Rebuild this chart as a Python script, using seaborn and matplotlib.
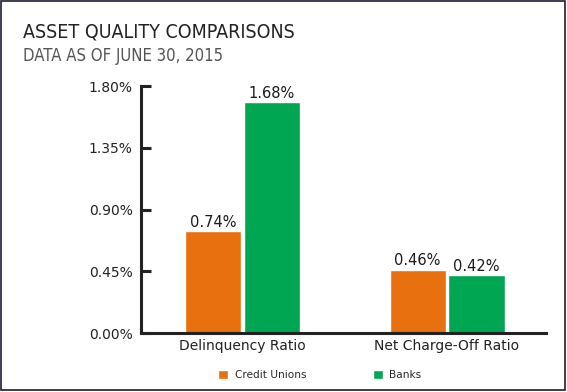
import pandas as pd
import matplotlib.pyplot as plt
import seaborn as sns
from matplotlib.patches import Rectangle

# Chart data
categories = ['Delinquency Ratio', 'Net Charge-Off Ratio']
series = ['Credit Unions', 'Banks']
credit_unions = [0.74, 0.46]
banks = [1.68, 0.42]
yticks = [0.0, 0.45, 0.90, 1.35, 1.80]

df = pd.DataFrame({
    'Ratio': categories * 2,
    'Group': [series[0]] * 2 + [series[1]] * 2,
    'Value': credit_unions + banks,
})

sns.set_style('white')
plt.rcParams['font.family'] = ['DejaVu Sans']
narrow = ['Liberation Sans Narrow', 'DejaVu Sans']

fig = plt.figure(figsize=(5.67, 3.92), dpi=100)
ax = fig.add_axes([0.2487, 0.1505, 0.963 - 0.2487, 0.6301])

palette = {'Credit Unions': '#E8700F', 'Banks': '#00A651'}
sns.barplot(data=df, x='Ratio', y='Value', hue='Group', palette=palette,
            width=0.575, gap=0.045, saturation=1, ax=ax)

for c in ax.containers:
    ax.bar_label(c, fmt='%.2f%%', padding=1, fontsize=10.5, color='#1a1a1a')

ax.set_ylim(0, 1.8)
ax.set_xlim(-0.496, 1.484)
ax.set_yticks(yticks)
ax.set_yticklabels([f'{v:.2f}%' for v in yticks])
ax.set_xlabel('')
ax.set_ylabel('')
sns.despine(ax=ax)
for s in ['left', 'bottom']:
    ax.spines[s].set_linewidth(2.2)
    ax.spines[s].set_color('#222222')
ax.tick_params(axis='y', direction='in', length=7, width=2.2, color='#222222',
               labelsize=10, labelcolor='#222222', pad=6, left=True)
ax.tick_params(axis='x', length=0, labelsize=10, labelcolor='#222222', pad=4)

sns.move_legend(ax, 'center', bbox_to_anchor=(0.564, 0.043),
                bbox_transform=fig.transFigure, ncol=2, frameon=False, title=None,
                fontsize=7.6, handlelength=0.95, handleheight=0.95,
                handletextpad=0.6, columnspacing=6.3)

fig.text(0.04, 0.905, 'ASSET QUALITY COMPARISONS', fontsize=14,
         family=narrow, stretch='condensed', color='#222222')
fig.text(0.04, 0.845, 'DATA AS OF JUNE 30, 2015', fontsize=12,
         family=narrow, stretch='condensed', color='#555555')

fig.patches.append(Rectangle((0.002, 0.004), 0.995, 0.993, transform=fig.transFigure,
                             fill=False, edgecolor='#1c1c36', linewidth=1.2))

fig.savefig('out.png', dpi=100)
